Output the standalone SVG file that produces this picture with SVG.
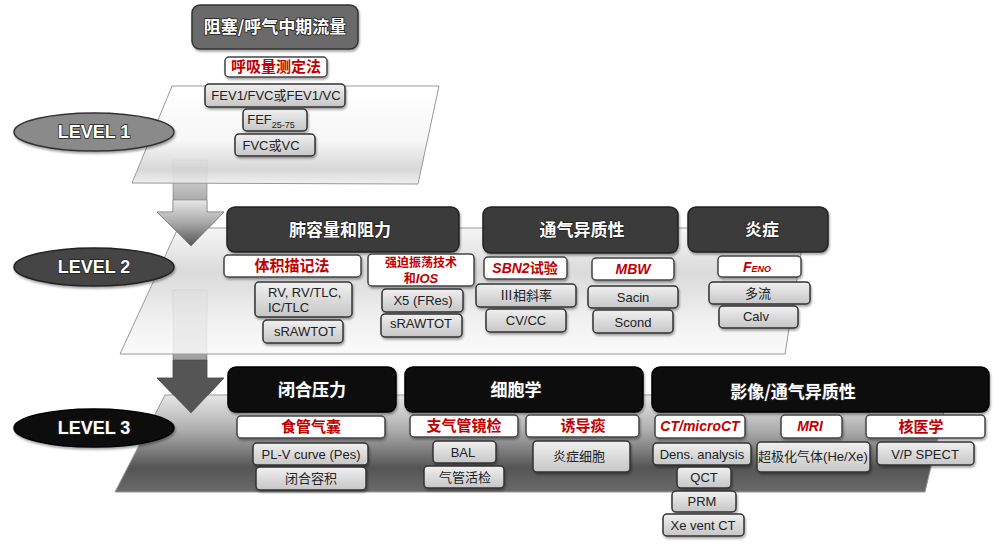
<svg xmlns="http://www.w3.org/2000/svg" width="995" height="545" viewBox="0 0 995 545">
<defs>
<linearGradient id="g1" x1="0" y1="0" x2="0" y2="1"><stop offset="0" stop-color="#ffffff"/><stop offset="0.55" stop-color="#f6f6f6"/><stop offset="0.85" stop-color="#d2d2d2"/><stop offset="1" stop-color="#eeeeee"/></linearGradient>
<linearGradient id="g2" x1="0" y1="0" x2="0" y2="1"><stop offset="0" stop-color="#f4f4f4"/><stop offset="0.35" stop-color="#d4d4d4"/><stop offset="0.75" stop-color="#efefef"/><stop offset="1" stop-color="#fafafa"/></linearGradient>
<linearGradient id="g3" x1="0" y1="0" x2="0" y2="1"><stop offset="0" stop-color="#e6e6e6"/><stop offset="0.35" stop-color="#b0b0b0"/><stop offset="0.75" stop-color="#555555"/><stop offset="1" stop-color="#6a6a6a"/></linearGradient>
<linearGradient id="ga" x1="0" y1="0" x2="0" y2="1"><stop offset="0" stop-color="#e8e8e8"/><stop offset="0.5" stop-color="#a8a8a8"/><stop offset="1" stop-color="#555555"/></linearGradient>
<linearGradient id="gb" x1="0" y1="0" x2="0" y2="1"><stop offset="0" stop-color="#f0f0f0"/><stop offset="1" stop-color="#c6c6c6"/></linearGradient>
<filter id="sh" x="-10%" y="-10%" width="130%" height="150%"><feDropShadow dx="1" dy="2" stdDeviation="1.2" flood-color="#000" flood-opacity="0.35"/></filter>
<style>
.sub{fill:url(#gb);stroke:#333;stroke-width:1.5;filter:url(#sh)}
.lab{fill:#fff;stroke:#444;stroke-width:1.5;filter:url(#sh)}
.h2{fill:#3a3a3a;stroke:#222;stroke-width:1.5;filter:url(#sh)}
.h3{fill:#111;stroke:#000;stroke-width:1.5;filter:url(#sh)}
.ht{font-family:"Noto Sans CJK SC","Liberation Sans",sans-serif;font-weight:700;font-size:17px;fill:#fff;stroke:#222;stroke-width:1.5;paint-order:stroke;text-anchor:middle}
.st{font-family:"Liberation Sans","Noto Sans CJK SC",sans-serif;font-size:13px;fill:#222;text-anchor:middle}
.rt{font-family:"Noto Sans CJK SC","Liberation Sans",sans-serif;font-weight:700;font-size:15px;fill:#c00000;text-anchor:middle}
.ri{font-family:"Liberation Sans","Noto Sans CJK SC",sans-serif;font-weight:700;font-style:italic;font-size:14px;fill:#c00000;text-anchor:middle}
.lv{font-family:"Liberation Sans",sans-serif;font-weight:700;font-size:18px;fill:#fff;stroke:#222;stroke-width:1.5;paint-order:stroke;text-anchor:middle}
.pl{stroke:#999;stroke-width:1}
</style>
</defs>

<!-- arrows (behind planes) -->
<g id="connectors">
<path d="M173,160 H207 V212 H224 L191,246 L157,212 H173 Z" fill="url(#ga)" stroke="#666" stroke-width="0.5"/>
<path d="M173,290 H207 V378 H224 L191,413 L157,378 H173 Z" fill="url(#ga)" stroke="#555" stroke-width="0.5"/>
</g>

<!-- planes -->
<g id="plane1"><polygon class="pl" points="172,86 439,86 418,184 132,183" fill="url(#g1)" fill-opacity="0.88"/></g>
<g id="plane2"><polygon class="pl" points="178,228 805,228 785,354 120,354" fill="url(#g2)" fill-opacity="0.85"/></g>
<g id="plane3"><polygon class="pl" points="165,395 948,395 925,492 115,492" fill="url(#g3)"/></g>
<!-- arrow heads over planes -->
<g id="arrowheads">
<path d="M173,200 H207 V212 H224 L191,246 L157,212 H173 Z" fill="url(#ga)" stroke="#666" stroke-width="0.5"/>
<path d="M173,360 H207 V378 H224 L191,413 L157,378 H173 Z" fill="#555" stroke="#444" stroke-width="0.5"/>
</g>

<!-- level ellipses -->
<g id="level1"><ellipse cx="94" cy="132" rx="80" ry="19" fill="#8a8a8a" stroke="#333" stroke-width="1.5" filter="url(#sh)"/><text class="lv" x="94" y="138">LEVEL 1</text></g>
<g id="level2"><ellipse cx="94" cy="267" rx="80" ry="19" fill="#444" stroke="#222" stroke-width="1.5" filter="url(#sh)"/><text class="lv" x="94" y="273">LEVEL 2</text></g>
<g id="level3"><ellipse cx="94" cy="428" rx="80" ry="19" fill="#111" stroke="#000" stroke-width="1.5" filter="url(#sh)"/><text class="lv" x="94" y="434">LEVEL 3</text></g>

<!-- level 1 -->
<g id="top"><rect x="192" y="5" width="166" height="44" rx="8" fill="#6b6b6b" stroke="#333" stroke-width="1.5" filter="url(#sh)"/><text class="ht" x="275" y="33">阻塞/呼气中期流量</text></g>
<g id="spiro"><rect class="lab" x="225" y="57" width="102" height="20" rx="4"/><text class="rt" x="276" y="72">呼吸量测定法</text></g>
<g id="fev1"><rect class="sub" x="205" y="84" width="140" height="23" rx="4"/><text class="st" x="276" y="100">FEV1/FVC或FEV1/VC</text></g>
<g id="fef"><rect class="sub" x="243" y="109" width="64" height="22" rx="4"/><text class="st" x="271" y="124">FEF<tspan font-size="9" dy="4">25-75</tspan></text></g>
<g id="fvc"><rect class="sub" x="235" y="134" width="80" height="22" rx="4"/><text class="st" x="271" y="150">FVC或VC</text></g>

<!-- level 2 headers -->
<g id="lungvol"><rect class="h2" x="227" y="207" width="232" height="45" rx="8"/><text class="ht" x="340" y="236">肺容量和阻力</text></g>
<g id="venthet2"><rect class="h2" x="483" y="207" width="195" height="46" rx="8"/><text class="ht" x="582" y="236">通气异质性</text></g>
<g id="inflam"><rect class="h2" x="688" y="207" width="140" height="45" rx="8"/><text class="ht" x="762" y="236">炎症</text></g>

<!-- level 2 subs -->
<g id="pleth"><rect class="lab" x="224" y="255" width="137" height="22" rx="4"/><text class="rt" x="292" y="271">体积描记法</text></g>
<g id="fot"><rect class="lab" x="368" y="254" width="106" height="32" rx="4"/><text class="rt" x="421" y="267" style="font-size:12px">强迫振荡技术</text><text class="rt" x="421" y="283" style="font-size:12px">和<tspan font-family="Liberation Sans" font-style="italic" font-size="13">IOS</tspan></text></g>
<g id="rv"><rect class="sub" x="255" y="282" width="97" height="35" rx="4"/><text class="st" x="268" y="297" style="text-anchor:start">RV, RV/TLC,</text><text class="st" x="268" y="312" style="text-anchor:start">IC/TLC</text></g>
<g id="sraw1"><rect class="sub" x="263" y="320" width="80" height="23" rx="4"/><text class="st" x="305" y="336">sRAWTOT</text></g>
<g id="x5"><rect class="sub" x="382" y="289" width="81" height="23" rx="4"/><text class="st" x="423" y="305">X5 (FRes)</text></g>
<g id="sraw2"><rect class="sub" x="381" y="314" width="81" height="23" rx="4"/><text class="st" x="421" y="328">sRAWTOT</text></g>
<g id="sbn2"><rect class="lab" x="484" y="257" width="83" height="22" rx="4"/><text class="ri" x="525" y="273">SBN2<tspan font-family="Noto Sans CJK SC" font-style="normal">试验</tspan></text></g>
<g id="mbw"><rect class="lab" x="592" y="258" width="82" height="22" rx="4"/><text class="ri" x="633" y="274">MBW</text></g>
<g id="phase3"><rect class="sub" x="476" y="284" width="100" height="23" rx="4"/><text class="st" x="526" y="300">Ⅲ相斜率</text></g>
<g id="cvcc"><rect class="sub" x="486" y="309" width="80" height="23" rx="4"/><text class="st" x="526" y="325">CV/CC</text></g>
<g id="sacin"><rect class="sub" x="588" y="286" width="90" height="22" rx="4"/><text class="st" x="633" y="302">Sacin</text></g>
<g id="scond"><rect class="sub" x="593" y="310" width="80" height="23" rx="4"/><text class="st" x="633" y="327">Scond</text></g>
<g id="feno"><rect class="lab" x="718" y="256" width="83" height="21" rx="4"/><text class="ri" x="757" y="272">F<tspan font-size="9">ENO</tspan></text></g>
<g id="multi"><rect class="sub" x="709" y="282" width="101" height="22" rx="4"/><text class="st" x="758" y="298">多流</text></g>
<g id="calv"><rect class="sub" x="719" y="306" width="79" height="22" rx="4"/><text class="st" x="756" y="321">Calv</text></g>

<!-- level 3 headers -->
<g id="closing"><rect class="h3" x="228" y="367" width="168" height="45" rx="8"/><text class="ht" x="312" y="396">闭合压力</text></g>
<g id="cyto"><rect class="h3" x="405" y="367" width="238" height="45" rx="8"/><text class="ht" x="516" y="396">细胞学</text></g>
<g id="imaging"><rect class="h3" x="652" y="367" width="337" height="45" rx="8"/><text class="ht" x="793" y="398">影像/通气异质性</text></g>

<!-- level 3 subs -->
<g id="eso"><rect class="lab" x="237" y="416" width="148" height="22" rx="4"/><text class="rt" x="311" y="432">食管气囊</text></g>
<g id="plv"><rect class="sub" x="253" y="443" width="115" height="22" rx="4"/><text class="st" x="311" y="459">PL-V curve (Pes)</text></g>
<g id="cv"><rect class="sub" x="256" y="467" width="110" height="23" rx="4"/><text class="st" x="311" y="483">闭合容积</text></g>
<g id="bronch"><rect class="lab" x="410" y="415" width="108" height="22" rx="4"/><text class="rt" x="464" y="431">支气管镜检</text></g>
<g id="sputum"><rect class="lab" x="526" y="415" width="113" height="22" rx="4"/><text class="rt" x="583" y="431">诱导痰</text></g>
<g id="bal"><rect class="sub" x="433" y="441" width="63" height="22" rx="4"/><text class="st" x="463" y="457">BAL</text></g>
<g id="biopsy"><rect class="sub" x="424" y="466" width="80" height="22" rx="4"/><text class="st" x="465" y="482">气管活检</text></g>
<g id="cells"><rect class="sub" x="533" y="441" width="97" height="31" rx="4"/><text class="st" x="579" y="461">炎症细胞</text></g>
<g id="ct"><rect class="lab" x="655" y="415" width="90" height="23" rx="4"/><text class="ri" x="700" y="431">CT/microCT</text></g>
<g id="mri"><rect class="lab" x="781" y="415" width="61" height="23" rx="4"/><text class="ri" x="810" y="431">MRI</text></g>
<g id="nuc"><rect class="lab" x="866" y="415" width="119" height="23" rx="4"/><text class="rt" x="921" y="432">核医学</text></g>
<g id="dens"><rect class="sub" x="653" y="443" width="98" height="22" rx="4"/><text class="st" x="702" y="459">Dens. analysis</text></g>
<g id="qct"><rect class="sub" x="677" y="467" width="54" height="21" rx="4"/><text class="st" x="704" y="482">QCT</text></g>
<g id="prm"><rect class="sub" x="672" y="491" width="64" height="21" rx="4"/><text class="st" x="702" y="506">PRM</text></g>
<g id="xe"><rect class="sub" x="663" y="514" width="81" height="22" rx="4"/><text class="st" x="703" y="530">Xe vent CT</text></g>
<g id="hyper"><rect class="sub" x="757" y="442" width="113" height="30" rx="4"/><text class="st" x="813" y="461">超极化气体(He/Xe)</text></g>
<g id="vp"><rect class="sub" x="877" y="442" width="97" height="23" rx="4"/><text class="st" x="925" y="459">V/P SPECT</text></g>
</svg>
